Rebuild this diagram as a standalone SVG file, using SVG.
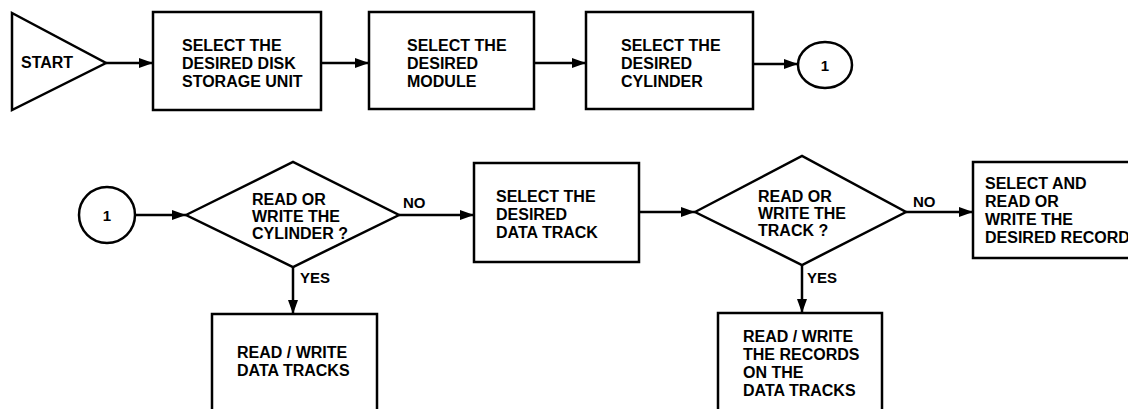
<svg xmlns="http://www.w3.org/2000/svg" width="1128" height="409" viewBox="0 0 1128 409">
<style>
.s{fill:#fff;stroke:#000;stroke-width:2.5}
.t{font-family:"Liberation Sans",Arial,sans-serif;font-weight:bold;font-size:16px;fill:#000}
.l{font-family:"Liberation Sans",Arial,sans-serif;font-weight:bold;font-size:15px;fill:#000}
.c{stroke:#000;stroke-width:2.5;fill:none}
</style>
<defs>
<marker id="ah" markerUnits="userSpaceOnUse" markerWidth="15" markerHeight="11" refX="14" refY="5" orient="auto">
<path d="M0,0 L14,5 L0,10 z" fill="#000"/>
</marker>
</defs>
<rect width="1128" height="409" fill="#fff"/>
<g id="connectors">
<line class="c" x1="106" y1="63" x2="153" y2="63" marker-end="url(#ah)"/>
<line class="c" x1="321" y1="63" x2="369" y2="63" marker-end="url(#ah)"/>
<line class="c" x1="534" y1="63" x2="586" y2="63" marker-end="url(#ah)"/>
<line class="c" x1="753" y1="64" x2="798" y2="64" marker-end="url(#ah)"/>
<line class="c" x1="136" y1="215" x2="186" y2="215" marker-end="url(#ah)"/>
<line class="c" x1="399" y1="215" x2="474" y2="215" marker-end="url(#ah)"/>
<line class="c" x1="639" y1="212" x2="695" y2="212" marker-end="url(#ah)"/>
<line class="c" x1="906" y1="212" x2="973" y2="212" marker-end="url(#ah)"/>
<line class="c" x1="293" y1="267" x2="293" y2="314" marker-end="url(#ah)"/>
<line class="c" x1="802" y1="265" x2="802" y2="313" marker-end="url(#ah)"/>
<text class="l" x="403" y="208">NO</text>
<text class="l" x="913" y="207">NO</text>
<text class="l" x="300" y="283">YES</text>
<text class="l" x="807" y="283">YES</text>
</g>
<g id="start">
<polygon class="s" points="12,13 12,110 106,63"/>
<text class="t" x="21" y="68">START</text>
</g>
<g id="disk">
<rect class="s" x="153" y="12" width="168" height="98"/>
<text class="t" x="182" y="51">SELECT THE</text>
<text class="t" x="182" y="69">DESIRED DISK</text>
<text class="t" x="182" y="87">STORAGE UNIT</text>
</g>
<g id="module">
<rect class="s" x="369" y="12" width="165" height="97"/>
<text class="t" x="407" y="51">SELECT THE</text>
<text class="t" x="407" y="69">DESIRED</text>
<text class="t" x="407" y="87">MODULE</text>
</g>
<g id="cylinder">
<rect class="s" x="586" y="12" width="167" height="97"/>
<text class="t" x="621" y="51">SELECT THE</text>
<text class="t" x="621" y="69">DESIRED</text>
<text class="t" x="621" y="87">CYLINDER</text>
</g>
<g id="conn1a">
<ellipse class="s" cx="825" cy="65" rx="27" ry="23"/>
<text class="t" x="825" y="71" text-anchor="middle" style="font-size:15px">1</text>
</g>
<g id="conn1b">
<circle class="s" cx="107" cy="215" r="28"/>
<text class="t" x="107" y="221" text-anchor="middle" style="font-size:15px">1</text>
</g>
<g id="dec1">
<polygon class="s" points="186,215 293,162 399,215 293,267"/>
<text class="t" x="252" y="205">READ OR</text>
<text class="t" x="252" y="222">WRITE THE</text>
<text class="t" x="252" y="239">CYLINDER ?</text>
</g>
<g id="track">
<rect class="s" x="474" y="163" width="165" height="99"/>
<text class="t" x="496" y="202">SELECT THE</text>
<text class="t" x="496" y="220">DESIRED</text>
<text class="t" x="496" y="238">DATA TRACK</text>
</g>
<g id="dec2">
<polygon class="s" points="695,212 802,156 906,212 802,265"/>
<text class="t" x="758" y="202">READ OR</text>
<text class="t" x="758" y="219">WRITE THE</text>
<text class="t" x="758" y="236">TRACK ?</text>
</g>
<g id="record">
<rect class="s" x="973" y="162" width="170" height="96"/>
<text class="t" x="985" y="189">SELECT AND</text>
<text class="t" x="985" y="207">READ OR</text>
<text class="t" x="985" y="225">WRITE THE</text>
<text class="t" x="985" y="243">DESIRED RECORD</text>
</g>
<g id="rwtracks">
<rect class="s" x="212" y="314" width="165" height="110"/>
<text class="t" x="237" y="358">READ / WRITE</text>
<text class="t" x="237" y="376">DATA TRACKS</text>
</g>
<g id="rwrecords">
<rect class="s" x="718" y="313" width="164" height="110"/>
<text class="t" x="743" y="342">READ / WRITE</text>
<text class="t" x="743" y="360">THE RECORDS</text>
<text class="t" x="743" y="378">ON THE</text>
<text class="t" x="743" y="396">DATA TRACKS</text>
</g>
</svg>
